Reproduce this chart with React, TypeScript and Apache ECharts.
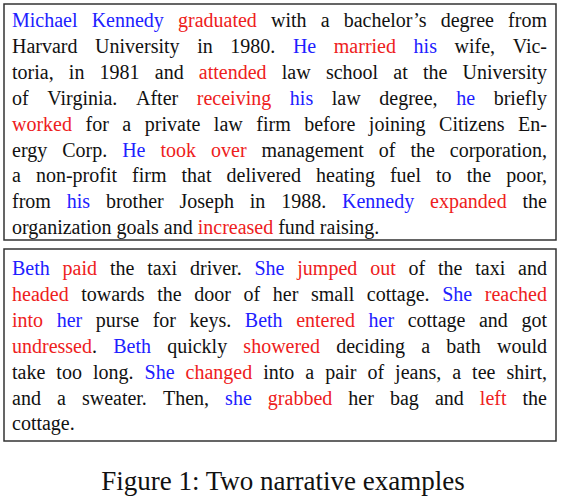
import { useEffect, useRef } from "react";
import * as echarts from "echarts";

// word markup: {b:word} blue, {r:word} red, plain text black
const story1: string[] = [
  "{b:Michael} {b:Kennedy} {r:graduated} with a bachelor’s degree from",
  "Harvard University in 1980. {b:He} {r:married} {b:his} wife, Vic-",
  "toria, in 1981 and {r:attended} law school at the University",
  "of Virginia. After {r:receiving} {b:his} law degree, {b:he} briefly",
  "{r:worked} for a private law firm before joining Citizens En-",
  "ergy Corp. {b:He} {r:took} {r:over} management of the corporation,",
  "a non-profit firm that delivered heating fuel to the poor,",
  "from {b:his} brother Joseph in 1988. {b:Kennedy} {r:expanded} the",
  "organization goals and {r:increased} fund raising.",
];
const story2: string[] = [
  "{b:Beth} {r:paid} the taxi driver. {b:She} {r:jumped} {r:out} of the taxi and",
  "{r:headed} towards the door of her small cottage. {b:She} {r:reached}",
  "{r:into} {b:her} purse for keys. {b:Beth} {r:entered} {b:her} cottage and got",
  "{r:undressed}. {b:Beth} quickly {r:showered} deciding a bath would",
  "take too long. {b:She} {r:changed} into a pair of jeans, a tee shirt,",
  "and a sweater. Then, {b:she} {r:grabbed} her bag and {r:left} the",
  "cottage.",
];
const caption = "Figure 1: Two narrative examples";

const FAMILY = "'Liberation Serif', 'DejaVu Serif', serif";
const SIZE = 20;
const FONT = `${SIZE}px ${FAMILY}`;
const colors: Record<string, string> = { b: "#2020ff", r: "#ee2020", k: "#111111" };

const App = () => {
  const ref = useRef<HTMLDivElement>(null);

  useEffect(() => {
    document.body.style.margin = "0";
    const chart = echarts.init(ref.current!, null, { renderer: "svg" });
    const ctx = document.createElement("canvas").getContext("2d")!;
    ctx.font = FONT;

    const rich: any = {};
    Object.keys(colors).forEach((k) => {
      rich[k] = { fill: colors[k], font: FONT, fontSize: SIZE, fontFamily: FAMILY };
    });

    const left = 12;
    const right = 547;
    const elements: any[] = [];

    const layout = (lines: string[], top: number) => {
      lines.forEach((line, li) => {
        const words = line.split(/\s+/).map((tok) => {
          const segs: [string, string][] = [];
          const re = /\{(b|r):([^}]*)\}|[^{]+/g;
          let m: RegExpExecArray | null;
          while ((m = re.exec(tok))) {
            if (m[1]) segs.push([m[1], m[2]]);
            else segs.push(["k", m[0]]);
          }
          const text = segs.map(([c, t]) => `{${c}|${t}}`).join("");
          const w = segs.reduce((s, [, t]) => s + ctx.measureText(t).width, 0);
          return { text, w };
        });
        const total = words.reduce((s, w) => s + w.w, 0);
        const last = li === lines.length - 1;
        const gap = last || words.length < 2
          ? ctx.measureText(" ").width
          : (right - left - total) / (words.length - 1);
        let x = left;
        const y = top + li * 25.9;
        words.forEach((w) => {
          elements.push({
            type: "text",
            x,
            y,
            style: { text: w.text, rich, fill: colors.k, font: FONT, verticalAlign: "middle" },
          });
          x += w.w + gap;
        });
      });
    };

    layout(story1, 20);
    layout(story2, 268);

    elements.push(
      { type: "rect", shape: { x: 4, y: 4, width: 552, height: 236 }, style: { fill: "none", stroke: "#333", lineWidth: 1.5 } },
      { type: "rect", shape: { x: 4, y: 249, width: 552, height: 192 }, style: { fill: "none", stroke: "#333", lineWidth: 1.5 } },
      {
        type: "text",
        x: 283,
        y: 481,
        style: { text: caption, fill: "#111", font: `27px ${FAMILY}`, align: "center", verticalAlign: "middle" },
      }
    );

    chart.setOption({ animation: false, graphic: { elements } });
    return () => chart.dispose();
  }, []);

  return <div ref={ref} style={{ width: 561, height: 499 }} />;
};

export default App;
